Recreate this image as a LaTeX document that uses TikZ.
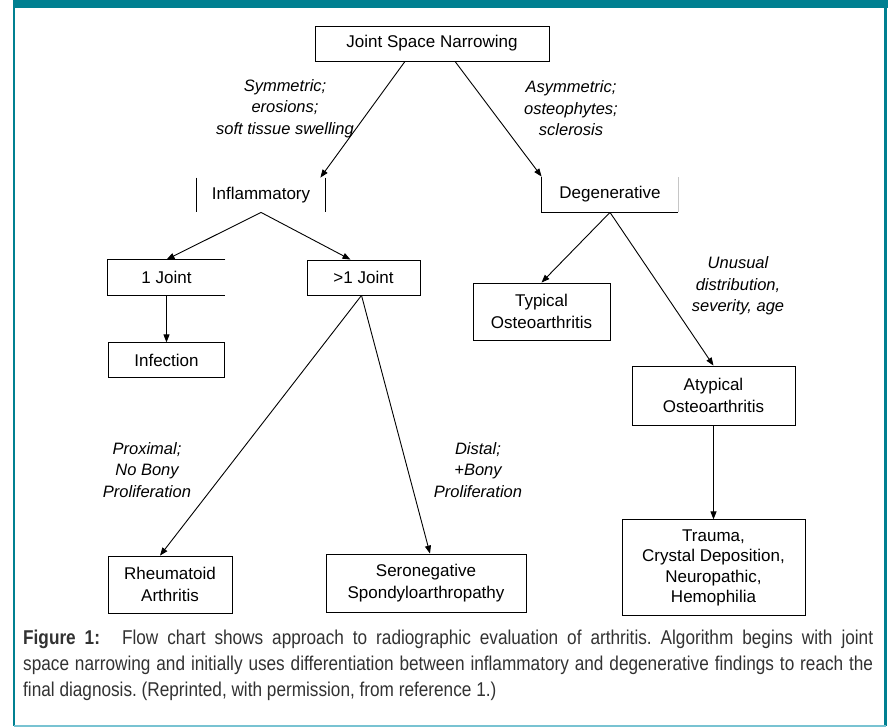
\documentclass[tikz,border=0pt]{standalone}
\usepackage{fontspec}
\setmainfont{Liberation Sans}
\newfontfamily\capfont[FakeStretch=0.86]{Liberation Sans}
\usetikzlibrary{positioning,arrows.meta}
\definecolor{frameteal}{RGB}{0,128,145}
\definecolor{framelight}{RGB}{120,195,210}
\definecolor{captext}{RGB}{50,50,50}
\tikzset{box/.style={draw,line width=0.8pt,align=center,inner sep=2pt,minimum height=35pt,font=\fontsize{17}{22}\selectfont}}
\tikzset{open box/.style={box,draw=none}}
\tikzset{finding/.style={align=center,font=\fontsize{16.5}{21.5}\selectfont\itshape}}
\tikzset{flow/.style={-{Triangle[length=8pt,width=6pt]},line width=0.9pt}}
\tikzset{side/.style={line width=0.8pt}}

\begin{document}
\frenchspacing
\begin{tikzpicture}[x=1pt,y=-1pt]
\useasboundingbox (0,0) rectangle (888,727);
%frame
\fill[frameteal] (13,0) rectangle (888,8);
\draw[frameteal,line width=2.5pt] (14,0) -- (14,726);
\draw[frameteal,line width=2.5pt] (885.5,0) -- (885.5,726);
\draw[framelight,line width=2pt] (14,726) -- (886,726);

\node[box,minimum width=234pt] (jsn) at (432,43.5) {Joint Space Narrowing};

\node[open box,minimum width=128pt,minimum height=34pt] (infl) at (261,195) {Inflammatory};
\node[open box,minimum width=136pt] (degen) at (610,194.5) {Degenerative};

\node[open box,minimum width=117pt] (onejoint) at (166.5,277.5) {1 Joint};
\node[box,minimum width=113pt] (multijoint) at (363.5,277.5) {>1 Joint};
\node[box,minimum width=116pt] (infection) [below=47pt of onejoint] {Infection};

\node[box,minimum width=137pt,minimum height=57pt] (typical) at (541.5,311.5) {Typical\\Osteoarthritis};
\node[box,minimum width=163pt,minimum height=59pt] (atypical) at (713.5,395.5) {Atypical\\Osteoarthritis};
\node[box,minimum width=183pt,minimum height=96pt,font=\fontsize{17}{20.5}\selectfont] (other) [below=94pt of atypical] {Trauma,\\Crystal Deposition,\\Neuropathic,\\Hemophilia};

\node[box,minimum width=124pt,minimum height=57pt] (rheum) at (170,584.5) {Rheumatoid\\Arthritis};
\node[box,minimum width=200pt,minimum height=58pt] (seroneg) at (426,583) {Seronegative\\Spondyloarthropathy};

%findings on the branches
\node[finding] (symm) at (285,108.5) {Symmetric;\\erosions;\\soft tissue swelling};
\node[finding] (asymm) at (571,108.5) {Asymmetric;\\osteophytes;\\sclerosis};
\node[finding] (prox) at (147,470) {Proximal;\\No Bony\\Proliferation};
\node[finding] (dist) at (478,470) {Distal;\\+Bony\\Proliferation};
\node[finding] (unusual) at (738,286) {Unusual\\distribution,\\severity, age};

%partly drawn boxes
\draw[side] (infl.north west) -- (infl.south west) (infl.north east) -- (infl.south east);
\draw[side] (degen.north west) -- (degen.south west) -- (degen.south east);
\draw[side,gray!45] (degen.south east) -- (degen.north east);
\draw[side] (onejoint.north east) -- (onejoint.north west) -- (onejoint.south west) -- (onejoint.south east);

\draw[flow] ([xshift=-27pt]jsn.south) -- ([xshift=-5pt]infl.north east);
\draw[flow] ([xshift=23pt]jsn.south) -- (degen.north west);
\draw[flow] (infl.south) -- (onejoint.north);
\draw[flow] (infl.south) -- ([xshift=-13pt]multijoint.north);
\draw[flow] (onejoint.south) -- (infection.north);
\draw[flow] ([xshift=-2pt]multijoint.south) -- ([xshift=-10pt]rheum.north);
\draw[flow] ([xshift=-2pt]multijoint.south) -- ([xshift=4pt]seroneg.north);
\draw[flow] (degen.south) -- (typical.north);
\draw[flow] (degen.south) -- (atypical.north);
\draw[flow] (atypical.south) -- (atypical.south |- other.north);

\node[anchor=north west,text width=850pt,align=justify,inner sep=0pt,font=\capfont\fontsize{20}{26}\selectfont,text=captext] (caption) at (23,630) {\textbf{Figure 1:}\hspace{1.1em}Flow chart shows approach to radiographic evaluation of arthritis. Algorithm begins with joint\linebreak space narrowing and initially uses differentiation between inflammatory and degenerative findings to reach the\linebreak final diagnosis. (Reprinted, with permission, from reference 1.)};
\end{tikzpicture}
\end{document}
